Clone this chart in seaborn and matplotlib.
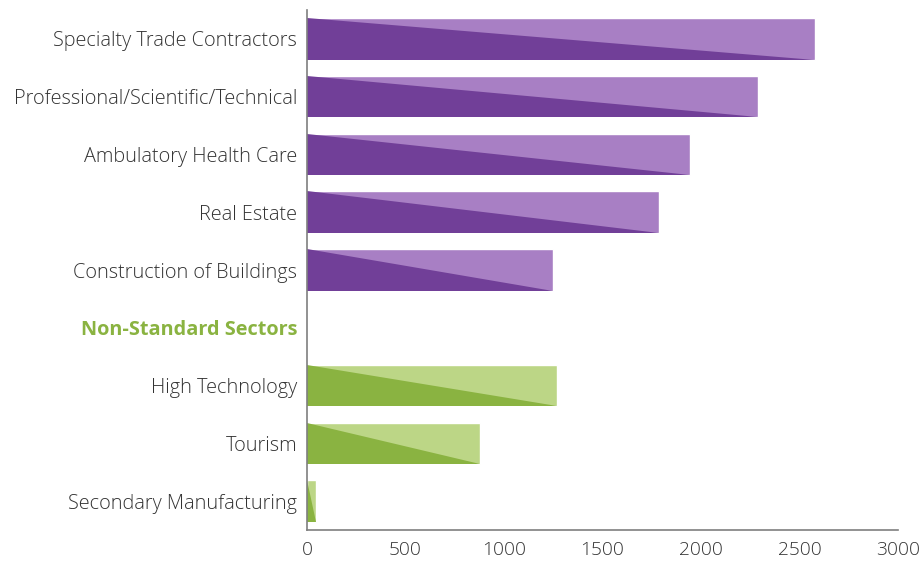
import pandas as pd
import matplotlib.pyplot as plt
from matplotlib.patches import Polygon
import seaborn as sns

# dados
setores = ['Specialty Trade Contractors', 'Professional/Scientific/Technical',
           'Ambulatory Health Care', 'Real Estate', 'Construction of Buildings',
           'Non-Standard Sectors', 'High Technology', 'Tourism',
           'Secondary Manufacturing']
valores = [2580, 2290, 1945, 1785, 1250, 0, 1270, 880, 45]
grupo = ['std', 'std', 'std', 'std', 'std', 'header', 'ns', 'ns', 'ns']

cor_clara = {'std': '#a87fc4', 'header': '#ffffff', 'ns': '#bcd686'}
cor_escura = {'std': '#713f98', 'header': '#ffffff', 'ns': '#8ab341'}

df = pd.DataFrame({'setor': setores, 'valor': valores, 'grupo': grupo})

sns.set_style('white')
plt.rcParams['font.family'] = ['Open Sans', 'DejaVu Sans']

fig = plt.figure(figsize=(9.23, 5.63), dpi=100)
ax = fig.add_axes([0.3326, 0.0586, 0.6403, 0.9236])

paleta = {s: cor_clara[g] for s, g in zip(setores, grupo)}
sns.barplot(data=df, y='setor', x='valor', hue='setor', palette=paleta,
            legend=False, orient='h', width=0.72, saturation=1, ax=ax)

# triangulo escuro: canto superior esquerdo -> canto inferior direito
for patch, g in zip(ax.patches, grupo):
    x0, y0 = patch.get_x(), patch.get_y()
    w, h = patch.get_width(), patch.get_height()
    if w <= 0:
        continue
    tri = Polygon([(x0, y0), (x0, y0 + h), (x0 + w, y0 + h)], closed=True,
                  facecolor=cor_escura[g], edgecolor='none',
                  zorder=patch.get_zorder() + 0.1)
    ax.add_patch(tri)

ax.set_xlim(0, 3000)
ax.set_ylim(len(setores) - 0.5, -0.5)
ax.set_xticks([0, 500, 1000, 1500, 2000, 2500, 3000])
ax.set_xlabel('')
ax.set_ylabel('')

for s in ['top', 'right']:
    ax.spines[s].set_visible(False)
for s in ['left', 'bottom']:
    ax.spines[s].set_color('#7f7f7f')
    ax.spines[s].set_linewidth(1.2)

ax.tick_params(axis='x', direction='in', length=9, width=1.2, color='#7f7f7f',
               labelsize=13.8, labelcolor='#333333', pad=8)
ax.tick_params(axis='y', length=0, labelsize=14.3, labelcolor='#333333', pad=7)

for lbl in ax.get_xticklabels() + ax.get_yticklabels():
    lbl.set_fontweight('light')
    if lbl.get_text() == 'Non-Standard Sectors':
        lbl.set_color('#8ab341')
        lbl.set_fontweight('bold')

plt.savefig('out.png', dpi=100)
